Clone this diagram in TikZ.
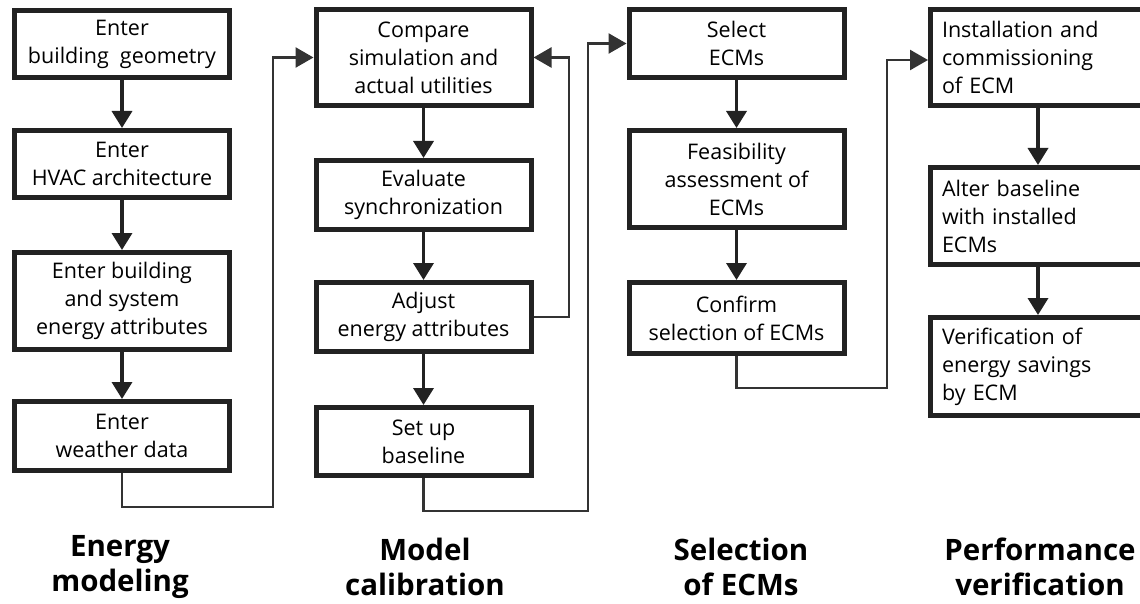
\documentclass[tikz,border=0pt]{standalone}
\usepackage{fontspec}
\setmainfont{Open Sans}
\usetikzlibrary{arrows.meta}
\definecolor{boxc}{HTML}{222222}
\definecolor{linec}{HTML}{333333}
\begin{document}
\begin{tikzpicture}[x=1pt,y=-1pt,
  box/.style={draw=boxc, line width=5pt, fill=white, align=center, inner sep=0pt,
    minimum width=215pt, font=\fontsize{21.5}{28}\selectfont},
  lbox/.style={box, align=left, text width=192pt, inner xsep=11.5pt},
  arr/.style={draw=boxc, line width=3.5pt, -{Triangle[length=17pt,width=20pt]}},
  conn/.style={draw=linec, line width=2.5pt, -{Triangle[length=18pt,width=20pt]}},
  lab/.style={align=center, font=\bfseries\fontsize{29.5}{35}\selectfont}
]
\useasboundingbox (0,0) rectangle (1140,604);
% column 1
\node[box, minimum height=67pt] (b1) at (122,44) {Enter\\building\ \ geometry};
\node[box, minimum height=67pt] (b2) at (122,164) {Enter\\HVAC\ architecture};
\node[box, minimum height=97pt] (b3) at (122,301) {Enter\ building\\and\ system\\energy\ attributes};
\node[box, minimum height=69pt] (b4) at (122,436) {Enter\\weather\ data};
% column 2
\node[box, minimum height=96pt] (c1) at (423.5,57.5) {Compare\\simulation\ and\\actual\ utilities};
\node[box, minimum height=69pt] (c2) at (423.5,195) {Evaluate\\synchronization};
\node[box, minimum height=69pt] (c3) at (423.5,317) {Adjust\\energy\ attributes};
\node[box, minimum height=68pt] (c4) at (423.5,441.5) {Set\ up\\baseline};
% column 3
\node[box, minimum height=68pt] (d1) at (736.5,43.5) {Select\\ECMs};
\node[box, minimum height=97pt] (d2) at (736.5,179) {Feasibility\\assessment\ of\\ECMs};
\node[box, minimum height=71pt] (d3) at (736.5,318) {Confirm\\selection\ of\ ECMs};
% column 4
\node[lbox, minimum height=96pt] (e1) at (1038,57.5) {Installation\ and\\commissioning\\of\ ECM};
\node[lbox, minimum height=97pt] (e2) at (1038,216) {Alter\ baseline\\with\ installed\\ECMs};
\node[lbox, minimum height=98pt] (e3) at (1038,366.5) {Verification\ of\\energy\ savings\\by\ ECM};
% vertical arrows
\draw[arr] (b1) -- (b2);
\draw[arr] (b2) -- (b3);
\draw[arr] (b3) -- (b4);
\draw[arr] (c1) -- (c2);
\draw[arr] (c2) -- (c3);
\draw[arr] (c3) -- (c4);
\draw[arr] (d1) -- (d2);
\draw[arr] (d2) -- (d3);
\draw[arr] (e1) -- (e2);
\draw[arr] (e2) -- (e3);
% loop connectors
\coordinate (l1) at (273,507);
\coordinate (l2) at (569,316);
\coordinate (l3) at (588,511);
\coordinate (l4) at (887,388);
\draw[conn] (b4.south) |- (l1) |- (c1.west);
\draw[conn] (c3.east) -- (c3.east -| l2) |- (c1.east);
\draw[conn] (c4.south) |- (l3) |- (d1.west);
\draw[conn] (d3.south) |- (l4) |- ([yshift=-2.5pt]e1.west);
% phase labels
\node[lab] (t1) at (120,567) {Energy\\modeling};
\node[lab] (t2) at (425,567) {Model\\calibration};
\node[lab] (t3) at (741,567) {Selection\\of\ ECMs};
\node[lab] (t4) at (1040,567) {Performance\\verification};
\end{tikzpicture}
\end{document}
